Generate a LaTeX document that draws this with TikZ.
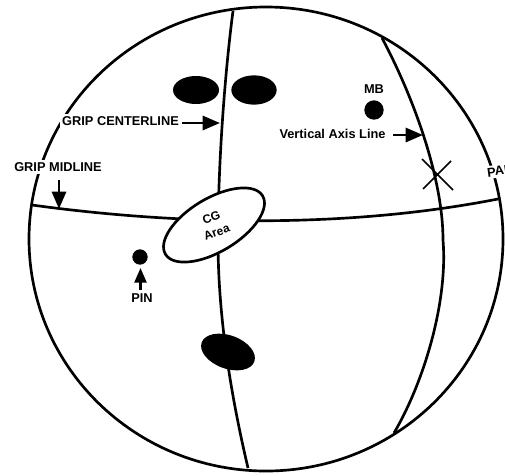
\documentclass[tikz,border=0pt]{standalone}
\usepackage{fontspec}
\setmainfont{Liberation Sans}
\usetikzlibrary{shapes.geometric,arrows.meta}
\tikzset{
 ln/.style={line width=2pt,black},
 lab/.style={font=\bfseries\fontsize{9.6}{12}\selectfont,inner sep=1pt,align=center},
 gap/.style={lab,fill=white,inner sep=1.5pt},
 arr/.style={line width=2.2pt,-{Triangle[width=10.5pt,length=13pt]}},
 arrs/.style={line width=1.8pt,-{Triangle[width=9pt,length=11pt]}},
 blob/.style={ellipse,fill=black,inner sep=0pt}
}
\begin{document}
\begin{tikzpicture}[x=0.75pt,y=-0.75pt]
\useasboundingbox (0,0) rectangle (505,475);
\begin{scope}
\clip (0,0) rectangle (505,475);
\node[ellipse,draw,ln,minimum width=355.5pt,minimum height=348pt,inner sep=0pt] (ball) at (266,239) {};
\coordinate (ct) at (233,11);
\coordinate (cm) at (218,240);
\coordinate (cb) at (248,468);
\coordinate (ml) at (32,205);
\coordinate (mr) at (498,199);
\coordinate (vt) at (382,38);
\coordinate (vm) at (443,240);
\coordinate (vb) at (394,433);
\draw[ln] (ct) .. controls (224,80) and (218,170) .. (cm) .. controls (218,320) and (232,400) .. (cb);
\draw[ln] (ml) .. controls (170,224) and (340,230) .. (mr);
\draw[ln] (vt) .. controls (415,100) and (443,180) .. (vm) .. controls (448,300) and (425,380) .. (vb);
\node[ellipse,draw,ln,fill=white,minimum width=85pt,minimum height=40pt,rotate=31,inner sep=0pt] (cg) at (214,225) {};
\node[lab,rotate=20,font=\bfseries\fontsize{9}{11.5}\selectfont] (cgt) at (214,225) {CG\\Area};
\node[blob,minimum width=34.5pt,minimum height=21pt] (b1) at (196,90) {};
\node[blob,minimum width=34pt,minimum height=22pt] (b2) at (254,90) {};
\node[blob,minimum width=42pt,minimum height=25pt,rotate=-20] (b3) at (228,352) {};
\node[circle,fill=black,minimum size=14.5pt,inner sep=0pt] (mb) at (374,110) {};
\node[circle,fill=black,minimum size=11.5pt,inner sep=0pt] (pin) at (140,257) {};
\node[lab] (mbt) at (374,89) {MB};
\node[lab] (pint) at (142,298) {PIN};
\node[gap] (gc) at (120.5,121) {GRIP CENTERLINE};
\node[gap] (gm) at (58,167) {GRIP MIDLINE};
\node[lab] (va) at (332.5,134) {Vertical Axis Line};
\node[gap,rotate=8,anchor=west] (pap) at (485,173) {PAP};
\coordinate (a1s) at (182,123);
\coordinate (a1) at (220,123);
\coordinate (a2s) at (59,180);
\coordinate (a2) at (59,209);
\coordinate (a3s) at (393,135);
\coordinate (a3) at (423,135);
\coordinate (a4s) at (140.5,290);
\coordinate (a4) at (140.5,268);
\draw[arr] (a1s) -- (a1);
\draw[arr] (a2s) -- (a2);
\draw[arr] (a3s) -- (a3);
\draw[arrs] (a4s) -- (a4);
\coordinate (xa) at (422,159);
\coordinate (xb) at (453,190);
\coordinate (xc) at (423,189);
\coordinate (xd) at (451,161);
\draw[line width=1.3pt] (xa) -- (xb) (xc) -- (xd);
\end{scope}
\end{tikzpicture}
\end{document}
